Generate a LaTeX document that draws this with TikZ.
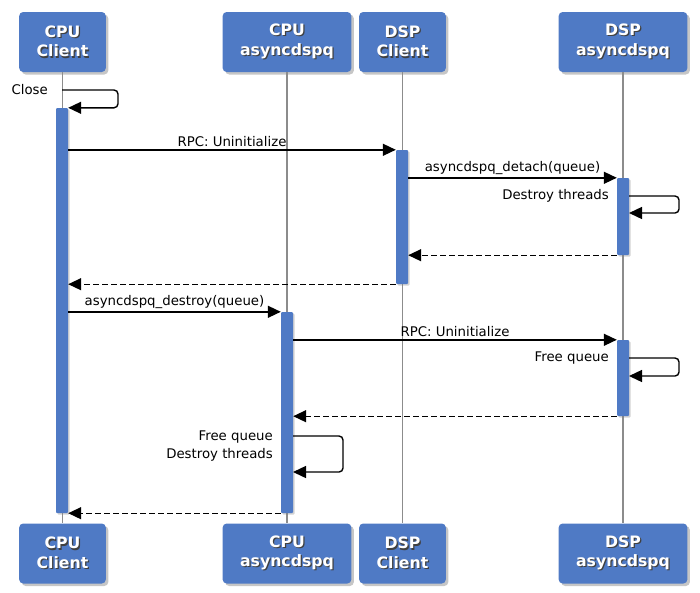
\documentclass[tikz,border=0pt]{standalone}
\usepackage{fontspec}
\setmainfont{DejaVu Sans}
\usetikzlibrary{arrows.meta,shadows}

\definecolor{boxblue}{RGB}{79,122,197}
\definecolor{lifegray}{RGB}{140,140,140}

% белый текст с тенью
\newcommand{\shtxt}[1]{\leavevmode\rlap{\kern1.2pt\raisebox{-1.2pt}{\color{black!75}#1}}#1}

\tikzset{
  head/.style={fill=boxblue, rounded corners=4pt, text=white, align=center,
    inner xsep=17.5pt, minimum height=60pt,
    font=\fontsize{15.7}{19.5}\selectfont\bfseries,
    drop shadow={shadow xshift=2.5pt, shadow yshift=-2.5pt, opacity=0.45}},
  act/.style={fill=boxblue, minimum width=12pt, inner sep=0pt, rounded corners=1pt,
    drop shadow={shadow xshift=1.5pt, shadow yshift=-1.5pt, opacity=0.35}},
  life/.style={lifegray, line width=1.4pt},
  msg/.style={->, line width=1.4pt},
  ret/.style={msg, dash pattern=on 6pt off 3pt},
  lbl/.style={font=\fontsize{13.3}{18}\selectfont, inner sep=2pt},
}

\begin{document}
\begin{tikzpicture}[x=1pt, y=-1pt, >={Triangle[length=13pt,width=12pt]}]
        \useasboundingbox (0,0) rectangle (700,592);

        \node[head] (cpuc) at (62.5,42) {\shtxt{CPU}\\\shtxt{Client}}; % сверху
        \node[head] (cpua) at (287,42) {\shtxt{CPU}\\\shtxt{asyncdspq}};
        \node[head] (dspc) at (402.5,42) {\shtxt{DSP}\\\shtxt{Client}};
        \node[head] (dspa) at (623,42) {\shtxt{DSP}\\\shtxt{asyncdspq}};

        \node[head] (cpucB) at (62.5,553.5) {\shtxt{CPU}\\\shtxt{Client}}; % снизу
        \node[head] (cpuaB) at (287,553.5) {\shtxt{CPU}\\\shtxt{asyncdspq}};
        \node[head] (dspcB) at (402.5,553.5) {\shtxt{DSP}\\\shtxt{Client}};
        \node[head] (dspaB) at (623,553.5) {\shtxt{DSP}\\\shtxt{asyncdspq}};

        \draw[life] (cpuc) -- (cpucB); % линии жизни
        \draw[life] (cpua) -- (cpuaB);
        \draw[life] (dspc) -- (dspcB);
        \draw[life] (dspa) -- (dspaB);

        \node[act, minimum height=405pt] (a1) at (62,310.5) {}; % активации
        \node[act, minimum height=134pt] (a2) at (402,217) {};
        \node[act, minimum height=77pt] (a3) at (623,216.5) {};
        \node[act, minimum height=201pt] (a4) at (287,412.5) {};
        \node[act, minimum height=76pt] (a5) at (623,378) {};

        \coordinate (close) at (62,90); % Close
        \node[lbl, anchor=east] (lclose) at (50,90) {Close};
        \draw[msg, rounded corners=4pt] (close) -- ++(56,0) |- (a1.north east);

        \draw[msg] (a1.east |- a2.north) -- node[lbl, above] (lrpc1) {RPC: Uninitialize} (a2.north west);
        \draw[msg] (a2.east |- a3.north) -- node[lbl, above] (ldetach) {asyncdspq\_detach(queue)} (a3.north west);

        \coordinate (dt1) at (629,196); % Destroy threads
        \coordinate (dt2) at (629,213);
        \node[lbl, anchor=east] (ldt) at (611,196) {Destroy threads};
        \draw[msg, rounded corners=4pt] (dt1) -- ++(50,0) |- (dt2);

        \draw[ret] (a3.south west) -- (a2.east |- a3.south);
        \draw[ret] (a2.south west) -- (a1.east |- a2.south);

        \draw[msg] (a1.east |- a4.north) -- node[lbl, above] (ldestroy) {asyncdspq\_destroy(queue)} (a4.north west);
        \draw[msg] (a4.east |- a5.north) -- node[lbl, above] (lrpc2) {RPC: Uninitialize} (a5.north west);

        \coordinate (fq1) at (629,358); % Free queue
        \coordinate (fq2) at (629,376);
        \node[lbl, anchor=east] (lfq) at (611,358) {Free queue};
        \draw[msg, rounded corners=4pt] (fq1) -- ++(50,0) |- (fq2);

        \draw[ret] (a5.south west) -- (a4.east |- a5.south);

        \coordinate (fd1) at (293,436); % Free queue + Destroy threads
        \coordinate (fd2) at (293,472);
        \node[lbl, anchor=north east, align=right] (lfd) at (275,429) {Free queue\\Destroy threads};
        \draw[msg, rounded corners=4pt] (fd1) -- ++(50,0) |- (fd2);

        \draw[ret] (a4.south west) -- (a1.east |- a4.south);
    \end{tikzpicture}
\end{document}
